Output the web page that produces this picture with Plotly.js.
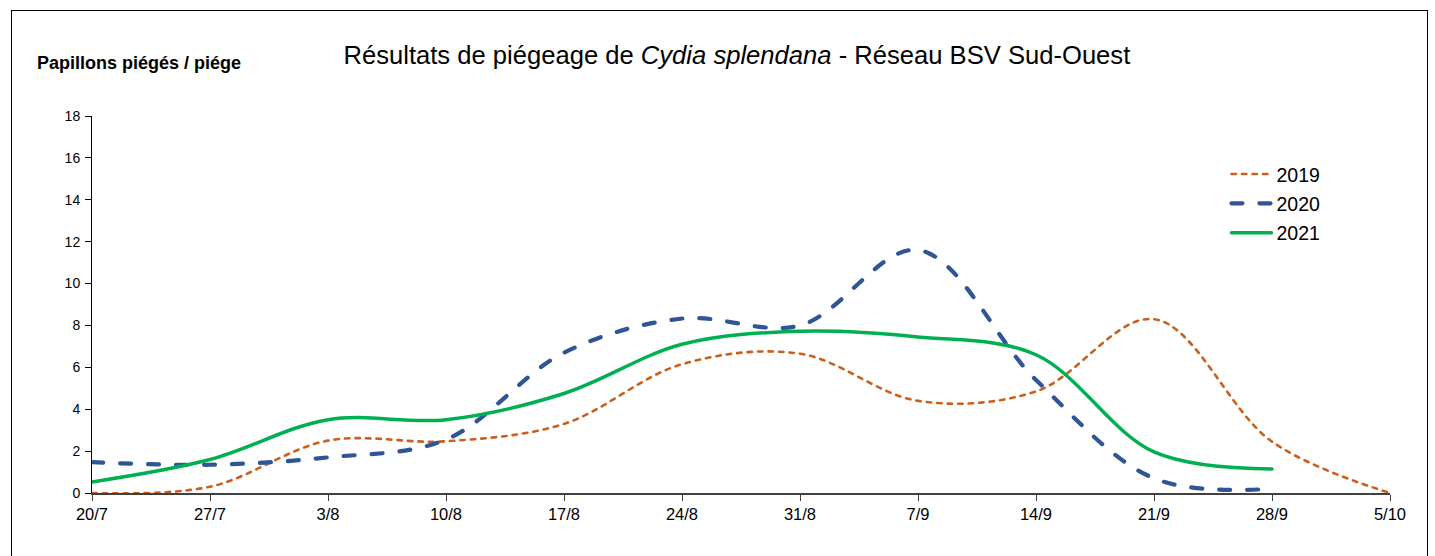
<!DOCTYPE html>
<html><head><meta charset="utf-8">
<script src="https://cdn.plot.ly/plotly-3.0.1.min.js"></script>
<style>
html,body{margin:0;padding:0;background:#fff;}
#wrap{position:relative;width:1435px;height:556px;overflow:hidden;}
#chart{width:1435px;height:556px;}
#frame{position:absolute;left:11px;top:10px;width:1415px;height:600px;border:1px solid #000;pointer-events:none;}
path.js-line{stroke-linecap:round;}
</style></head>
<body>
<div id="wrap"><div id="chart"></div><div id="frame"></div></div>
<script>
const weeks = ['20/7','27/7','3/8','10/8','17/8','24/8','31/8','7/9','14/9','21/9','28/9','5/10'];
const y2019 = [0, 0.3, 2.5, 2.47, 3.3, 6.15, 6.65, 4.4, 4.85, 8.3, 2.45, 0];
const y2020 = [1.47, 1.35, 1.7, 2.55, 6.7, 8.33, 8.0, 11.6, 5.4, 0.7, 0.2];
const y2021 = [0.53, 1.6, 3.5, 3.5, 4.75, 7.1, 7.72, 7.45, 6.6, 1.96, 1.15];
const seriesNames = ['2019','2020','2021'];

const traces = [
  {x: weeks.slice(0, y2019.length), y: y2019, name: seriesNames[0], legendgroup:'a', mode:'lines',
   line:{color:'#C9601F', width:2.6, dash:'4.5px,6px', shape:'spline', smoothing:1}},
  {x: weeks.slice(0, y2020.length), y: y2020, name: seriesNames[1], legendgroup:'b', mode:'lines',
   line:{color:'#2F5597', width:4.2, dash:'11px,17px', shape:'spline', smoothing:1}},
  {x: weeks.slice(0, y2021.length), y: y2021, name: seriesNames[2], legendgroup:'c', mode:'lines',
   line:{color:'#00B050', width:3.5, shape:'spline', smoothing:1}}
];

const layout = {
  width:1435, height:556,
  margin:{l:92, r:45, t:116, b:63},
  paper_bgcolor:'#fff', plot_bgcolor:'#fff',
  showlegend:true,
  font:{family:'Liberation Sans, Arial, sans-serif', color:'#000'},
  title:{text:'Résultats de piégeage de <i>Cydia splendana</i> - Réseau BSV Sud-Ouest',
         font:{size:25.6, family:'Liberation Sans, Arial, sans-serif', color:'#000'},
         x:0.5135, xanchor:'center', y:0.901, yanchor:'middle', xref:'container', yref:'container'},
  xaxis:{type:'category', categoryorder:'array', categoryarray:weeks, range:[0, 11],
         showgrid:false, zeroline:false, showline:true, linecolor:'#404040', linewidth:1.5,
         ticks:'outside', ticklen:6, tickcolor:'#404040', tickwidth:1,
         tickfont:{size:16.5, family:'Liberation Sans Narrow, Arial Narrow, Liberation Sans, sans-serif', color:'#000'},
         fixedrange:true},
  yaxis:{range:[0,18], dtick:2, showgrid:false, zeroline:false, showline:true, linecolor:'#000', linewidth:1,
         ticks:'outside', ticklen:6, tickcolor:'#000',
         tickfont:{size:14, family:'Liberation Sans, Arial, sans-serif', color:'#000'}, ticklabelstandoff:2},
  legend:{x:0.874, y:0.897, xanchor:'left', yanchor:'top', bgcolor:'rgba(0,0,0,0)',
          font:{size:19.5, family:'Liberation Sans, Arial, sans-serif', color:'#000'},
          itemwidth:40, tracegroupgap:1},
  annotations:[{text:'<b>Papillons piégés / piége</b>', xref:'paper', yref:'paper',
    x:-0.0439, y:1.14, xanchor:'left', yanchor:'middle', showarrow:false,
    font:{size:18, family:'Liberation Sans, Arial, sans-serif', color:'#000'}}]
};

Plotly.newPlot('chart', traces, layout, {displayModeBar:false, staticPlot:true});
</script>
</body></html>
